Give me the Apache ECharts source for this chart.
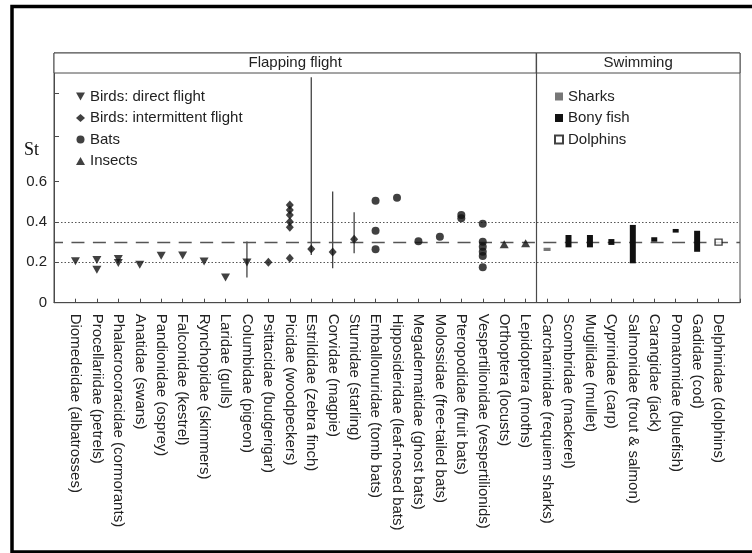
<!DOCTYPE html>
<html>
<head>
<meta charset="utf-8">
<script src="https://cdn.jsdelivr.net/npm/echarts@6/dist/echarts.min.js"></script>
<style>
  html, body { margin: 0; padding: 0; background: #fff; }
  #chart { width: 752px; height: 553px; }
</style>
</head>
<body>
<div id="chart"></div>
<script>
// Strouhal number (St) by family, flying and swimming animals.
const categories = [
  'Diomedeidae (albatrosses)', 'Procellariidae (petrels)', 'Phalacrocoracidae (cormorants)',
  'Anatidae (swans)', 'Pandionidae (osprey)', 'Falconidae (kestrel)', 'Rynchopidae (skimmers)',
  'Laridae (gulls)', 'Columbidae (pigeon)', 'Psittacidae (budgerigar)', 'Picidae (woodpeckers)',
  'Estrildidae (zebra finch)', 'Corvidae (magpie)', 'Sturnidae (starling)',
  'Emballonuridae (tomb bats)', 'Hipposideridae (leaf-nosed bats)', 'Megadermatidae (ghost bats)',
  'Molossidae (free-tailed bats)', 'Pteropodidae (fruit bats)', 'Vespertilionidae (vespertilionids)',
  'Orthoptera (locusts)', 'Lepidoptera (moths)',
  'Carcharinidae (requiem sharks)', 'Scombridae (mackerel)', 'Mugilidae (mullet)',
  'Cyprinidae (carp)', 'Salmonidae (trout & salmon)', 'Carangidae (jack)',
  'Pomatomidae (bluefish)', 'Gadidae (cod)', 'Delphinidae (dolphins)'
];

// Sections shown in the header band, with the number of families in each
const sectionNames = ['Flapping flight', 'Swimming'];
const sectionSizes = [22, 9];

// Point estimates: [family index, St]
const directFlight = [
  [0, 0.205], [1, 0.211], [1, 0.163], [2, 0.216], [2, 0.196], [3, 0.188],
  [4, 0.233], [5, 0.234], [6, 0.204], [7, 0.125], [8, 0.199]
];
const intermittentFlight = [
  [9, 0.200], [10, 0.484], [10, 0.459], [10, 0.434], [10, 0.401], [10, 0.373], [10, 0.220],
  [11, 0.266], [12, 0.251], [13, 0.314]
];
const bats = [
  [14, 0.505], [14, 0.356], [14, 0.264], [15, 0.520], [16, 0.304], [17, 0.327],
  [18, 0.434], [18, 0.418], [19, 0.391], [19, 0.302], [19, 0.277], [19, 0.252],
  [19, 0.231], [19, 0.175]
];
const insects = [[20, 0.289], [21, 0.294]];
const dolphins = [[30, 0.300]];

// Ranges: [family index, low St, high St]
const birdRanges = [[8, 0.125, 0.303], [11, 0.236, 1.116], [12, 0.170, 0.550], [13, 0.245, 0.448]];
const sharks = [[22, 0.256, 0.272]];
const bonyFish = [
  [23, 0.274, 0.335], [24, 0.274, 0.335], [25, 0.286, 0.315], [26, 0.195, 0.385],
  [27, 0.302, 0.324], [28, 0.347, 0.365], [29, 0.252, 0.356]
];

// Reference levels
const optimalBand = [0.2, 0.4];
const optimalMid = 0.3;

// Y axis
const yTickValues = [0, 0.2, 0.4, 0.6, 0.825, 1.035];
const yLabelValues = [0, 0.2, 0.4, 0.6];
const headerBase = 1.137;
const yTop = 1.236;

const xPos = i => i + 1;             // families sit at 1..n on the x scale
const xMax = categories.length + 1;
const withX = arr => arr.map(d => [xPos(d[0])].concat(d.slice(1)));

const FONT = "'Liberation Sans', Arial, Helvetica, sans-serif";
const INK = '#111';
const LINE = '#4a4a4a';

const downTri = 'path://M0,0L10,0L5,9Z';

function rangeBar(width) {
  return function (params, api) {
    const x = api.value(0);
    const top = api.coord([x, api.value(2)]);
    const bot = api.coord([x, api.value(1)]);
    return {
      type: 'rect',
      shape: { x: top[0] - width / 2, y: top[1], width: width, height: Math.max(2, bot[1] - top[1]) },
      style: { fill: api.visual('color') }
    };
  };
}

function errorLine(params, api) {
  const x = api.value(0);
  const a = api.coord([x, api.value(1)]);
  const b = api.coord([x, api.value(2)]);
  return {
    type: 'line',
    shape: { x1: a[0], y1: a[1], x2: b[0], y2: b[1] },
    style: { stroke: '#333', lineWidth: 1.2 }
  };
}

// Section boundaries on the x scale
const bounds = [0];
let acc = 0.5;
sectionSizes.forEach((n, i) => {
  acc += n;
  bounds.push(i === sectionSizes.length - 1 ? xMax : acc);
});

const chart = echarts.init(document.getElementById('chart'), null, { renderer: 'canvas' });

chart.setOption({
  animation: false,
  backgroundColor: '#fff',
  textStyle: { fontFamily: FONT },
  graphic: [
    {
      type: 'rect', silent: true, z: 100,
      shape: { x: 12, y: 6.5, width: 760, height: 545.5 },
      style: { fill: 'none', stroke: '#000', lineWidth: 3.5 }
    },
    {
      type: 'text', left: 24, top: 141, silent: true,
      style: { text: 'St', font: "18px 'Liberation Serif', 'Times New Roman', serif", fill: '#111' }
    }
  ],
  grid: {
    left: 54, right: 12, top: 53, bottom: 250.3,
    show: true, borderColor: LINE, borderWidth: 1, backgroundColor: 'transparent'
  },
  legend: [
    {
      orient: 'vertical', left: 71, top: 84,
      itemWidth: 9, itemHeight: 8, itemGap: 6.5,
      selectedMode: false,
      textStyle: { fontSize: 15, color: '#222', fontFamily: FONT },
      data: ['Birds: direct flight', 'Birds: intermittent flight', 'Bats', 'Insects']
    },
    {
      orient: 'vertical', left: 549, top: 84,
      itemWidth: 8, itemHeight: 8, itemGap: 6.5,
      selectedMode: false,
      textStyle: { fontSize: 15, color: '#222', fontFamily: FONT },
      data: [
        { name: 'Sharks', icon: 'rect' },
        { name: 'Bony fish', icon: 'rect' },
        { name: 'Dolphins', icon: 'rect' }
      ]
    }
  ],
  xAxis: {
    type: 'value', min: 0, max: xMax, interval: 1,
    splitLine: { show: false },
    axisLine: { show: true, lineStyle: { color: LINE, width: 1 } },
    axisTick: { show: true, inside: true, length: 4, lineStyle: { color: LINE } },
    axisLabel: {
      rotate: -90, margin: 11, fontSize: 15, color: '#222', fontFamily: FONT,
      showMinLabel: true, showMaxLabel: true,
      formatter: v => categories[v - 1] || ''
    }
  },
  yAxis: {
    type: 'value', min: 0, max: yTop,
    splitLine: { show: false },
    axisLine: { show: true, lineStyle: { color: LINE, width: 1 } },
    axisTick: { show: true, inside: true, length: 5, customValues: yTickValues, lineStyle: { color: LINE } },
    axisLabel: {
      customValues: yLabelValues, margin: 7, fontSize: 15, color: '#222', fontFamily: FONT,
      formatter: v => String(v)
    }
  },
  series: [
    {
      // Header band, section divider and reference levels
      type: 'line', data: [], silent: true, z: 1,
      markArea: {
        silent: true,
        itemStyle: { color: '#fff', borderColor: LINE, borderWidth: 1 },
        label: { show: true, position: 'inside', fontSize: 15, color: '#222', fontFamily: FONT },
        data: sectionNames.map((name, i) => [
          { name: name, xAxis: bounds[i], yAxis: headerBase },
          { xAxis: bounds[i + 1], yAxis: yTop }
        ])
      },
      markLine: {
        silent: true, symbol: 'none', label: { show: false },
        data: [
          { xAxis: bounds[1], lineStyle: { color: LINE, width: 1.2, type: 'solid' } },
          { yAxis: optimalBand[0], lineStyle: { color: '#555', width: 1, type: [1.5, 2] } },
          { yAxis: optimalBand[1], lineStyle: { color: '#555', width: 1, type: [1.5, 2] } },
          { yAxis: optimalMid, lineStyle: { color: '#555', width: 1.3, type: [13, 8.45], dashOffset: 4 } }
        ]
      }
    },
    {
      name: 'Bird ranges', type: 'custom', z: 3, silent: true,
      renderItem: errorLine, encode: { x: 0, y: [1, 2] },
      data: withX(birdRanges)
    },
    {
      name: 'Birds: direct flight', type: 'scatter', z: 5,
      symbol: downTri, symbolSize: [9, 8],
      itemStyle: { color: INK },
      data: withX(directFlight)
    },
    {
      name: 'Birds: intermittent flight', type: 'scatter', z: 5,
      symbol: 'diamond', symbolSize: [8, 9],
      itemStyle: { color: INK },
      data: withX(intermittentFlight)
    },
    {
      name: 'Bats', type: 'scatter', z: 5,
      symbol: 'circle', symbolSize: 8,
      itemStyle: { color: INK },
      data: withX(bats)
    },
    {
      name: 'Insects', type: 'scatter', z: 5,
      symbol: 'triangle', symbolSize: [9, 8],
      itemStyle: { color: INK },
      data: withX(insects)
    },
    {
      name: 'Sharks', type: 'custom', z: 5,
      itemStyle: { color: '#777' },
      renderItem: rangeBar(7), encode: { x: 0, y: [1, 2] },
      data: withX(sharks)
    },
    {
      name: 'Bony fish', type: 'custom', z: 5,
      itemStyle: { color: INK },
      renderItem: rangeBar(6), encode: { x: 0, y: [1, 2] },
      data: withX(bonyFish)
    },
    {
      name: 'Dolphins', type: 'scatter', z: 5,
      symbol: 'rect', symbolSize: [7, 6],
      itemStyle: { color: '#fff', borderColor: INK, borderWidth: 1.3 },
      data: withX(dolphins)
    }
  ]
});
</script>
</body>
</html>
